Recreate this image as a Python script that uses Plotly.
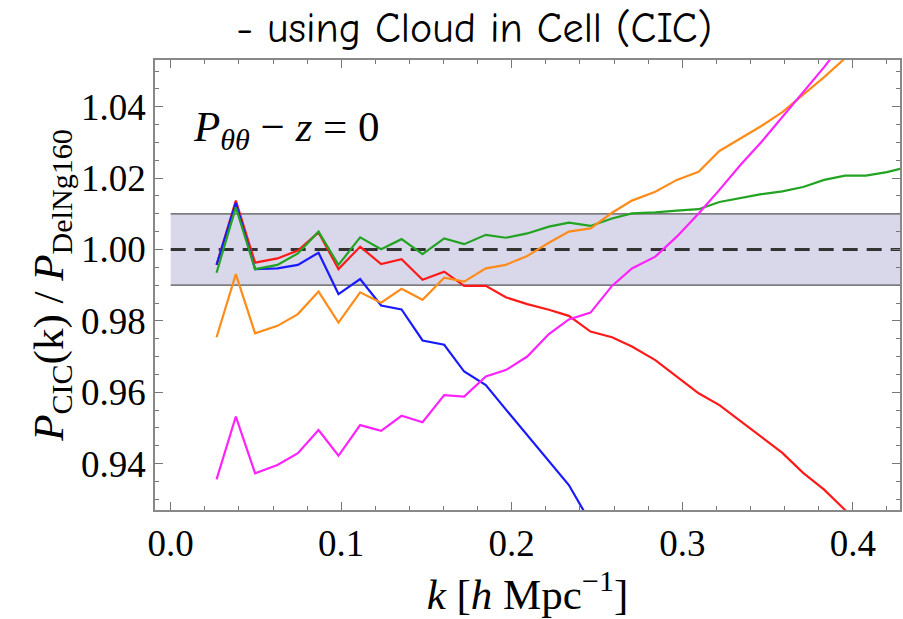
import plotly.graph_objects as go

# ---- data ----
k_vals = [0.0269, 0.0382, 0.0495, 0.0626, 0.0746, 0.0867, 0.0984, 0.1111, 0.1234, 0.1354,
          0.1477, 0.1604, 0.1721, 0.1848, 0.1965, 0.2091, 0.2218, 0.2335, 0.2462, 0.2588,
          0.2705, 0.2842, 0.2968, 0.3096, 0.3218, 0.3341, 0.3464, 0.3587, 0.3709, 0.3832,
          0.3955, 0.4077, 0.4200, 0.4323]

red = [0.9957, 1.0137, 0.9963, 0.9975, 0.9997, 1.0048, 0.9945, 1.0008, 0.9959, 0.9973,
       0.9915, 0.9938, 0.9898, 0.9898, 0.9866, 0.9847, 0.9831, 0.9814, 0.9770, 0.9754,
       0.9728, 0.9690, 0.9644, 0.9597, 0.9564, 0.9520, 0.9475, 0.9430, 0.9374, 0.9327,
       0.9270, 0.9216, 0.9160, 0.9100]

blue = [0.9957, 1.0131, 0.9945, 0.9947, 0.9957, 0.9991, 0.9875, 0.9917, 0.9843, 0.9832,
        0.9745, 0.9733, 0.9658, 0.9620, 0.9552, 0.9480, 0.9405, 0.9340, 0.9235]

green = [0.9935, 1.0118, 0.9945, 0.9957, 0.9989, 1.0050, 0.9957, 1.0034, 1.0001, 1.0029,
         0.9987, 1.0031, 1.0015, 1.0041, 1.0033, 1.0045, 1.0064, 1.0075, 1.0066, 1.0087,
         1.0101, 1.0104, 1.0109, 1.0113, 1.0133, 1.0144, 1.0155, 1.0163, 1.0175, 1.0195,
         1.0207, 1.0207, 1.0217, 1.0231]

orange = [0.9754, 0.9931, 0.9765, 0.9786, 0.9819, 0.9882, 0.9795, 0.9880, 0.9851, 0.9890,
          0.9859, 0.9921, 0.9910, 0.9947, 0.9957, 0.9982, 1.0019, 1.0050, 1.0059, 1.0103,
          1.0137, 1.0162, 1.0195, 1.0218, 1.0276, 1.0310, 1.0346, 1.0385, 1.0433, 1.0483,
          1.0536, 1.0590]

magenta = [0.9356, 0.9532, 0.9373, 0.9396, 0.9429, 0.9494, 0.9422, 0.9508, 0.9492, 0.9534,
           0.9516, 0.9592, 0.9588, 0.9644, 0.9662, 0.9700, 0.9763, 0.9804, 0.9823, 0.9898,
           0.9947, 0.9980, 1.0036, 1.0101, 1.0167, 1.0237, 1.0301, 1.0371, 1.0438, 1.0511,
           1.0587]

band_lo, band_hi, ref_level = 0.99, 1.01, 1.00
band_k = [0.0, 0.5]

x_ticks = [0.0, 0.1, 0.2, 0.3, 0.4]
y_ticks = [0.94, 0.96, 0.98, 1.00, 1.02, 1.04]

SERIF = "Liberation Serif, Times New Roman, serif"

fig = go.Figure()

# shaded band
fig.add_trace(go.Scatter(
    x=band_k + band_k[::-1], y=[band_hi, band_hi, band_lo, band_lo],
    fill="toself", fillcolor="rgba(200,200,225,0.7)", mode="none",
    hoverinfo="skip", showlegend=False))
fig.add_trace(go.Scatter(x=band_k, y=[band_hi, band_hi], mode="lines",
                         line=dict(color="#555555", width=1.3), showlegend=False))
fig.add_trace(go.Scatter(x=band_k, y=[band_lo, band_lo], mode="lines",
                         line=dict(color="#555555", width=1.3), showlegend=False))
fig.add_trace(go.Scatter(x=band_k, y=[ref_level, ref_level], mode="lines",
                         line=dict(color="#333333", width=2.8, dash="15px,9px"),
                         showlegend=False))

series = [
    (red, "#ff1a1a"),
    (blue, "#1a1aff"),
    (green, "#22a322"),
    (orange, "#ff8c1a"),
    (magenta, "#ff22ff"),
]
for vals, col in series:
    fig.add_trace(go.Scatter(x=k_vals[:len(vals)], y=vals, mode="lines",
                             line=dict(color=col, width=2.2), showlegend=False))

fig.update_layout(
    width=903, height=619,
    margin=dict(l=155, r=1, t=60, b=109),
    paper_bgcolor="white", plot_bgcolor="white",
    font=dict(family=SERIF, color="black"),
    title=dict(text="- using Cloud in Cell (CIC)", x=0.525, xanchor="center",
               y=0.956, yanchor="middle",
               font=dict(family="Comic Neue, Comic Sans MS, Open Sans, sans-serif",
                         size=42, color="black")),
)

fig.update_xaxes(
    range=[-0.0092, 0.4277], tickvals=x_ticks, ticktext=[f"{v:.1f}" for v in x_ticks],
    ticks="inside", ticklen=8, tickwidth=1.2, tickcolor="#777777",
    minor=dict(ticks="inside", dtick=0.02, tick0=0, ticklen=4, tickcolor="#777777"),
    showline=True, linecolor="#888888", linewidth=1.5, mirror="allticks",
    showgrid=False, zeroline=False,
    tickfont=dict(family=SERIF, size=37, color="black"),
    title=dict(text="<i>k</i> [<i>h</i> Mpc<sup>−1</sup>]",
               font=dict(family=SERIF, size=43, color="black"), standoff=12),
)
fig.update_yaxes(
    range=[0.9270, 1.0531], tickvals=y_ticks, ticktext=[f"{v:.2f}" for v in y_ticks],
    ticks="inside", ticklen=8, tickwidth=1.2, tickcolor="#777777",
    minor=dict(ticks="inside", dtick=0.005, tick0=0.94, ticklen=4, tickcolor="#777777"),
    showline=True, linecolor="#888888", linewidth=1.5, mirror="allticks",
    showgrid=False, zeroline=False,
    tickfont=dict(family=SERIF, size=37, color="black"),
    title=dict(text="<i>P</i><sub>CIC</sub>(k) / <i>P</i><sub>DelNg160</sub>",
               font=dict(family=SERIF, size=43, color="black"), standoff=4),
)

fig.add_annotation(
    text="<i>P</i><sub><i>θθ</i></sub> − <i>z</i> = 0",
    xref="paper", yref="paper", x=0.048, y=0.845, xanchor="left", yanchor="middle",
    showarrow=False, font=dict(family=SERIF, size=43, color="black"))

fig.write_html("out.html")
